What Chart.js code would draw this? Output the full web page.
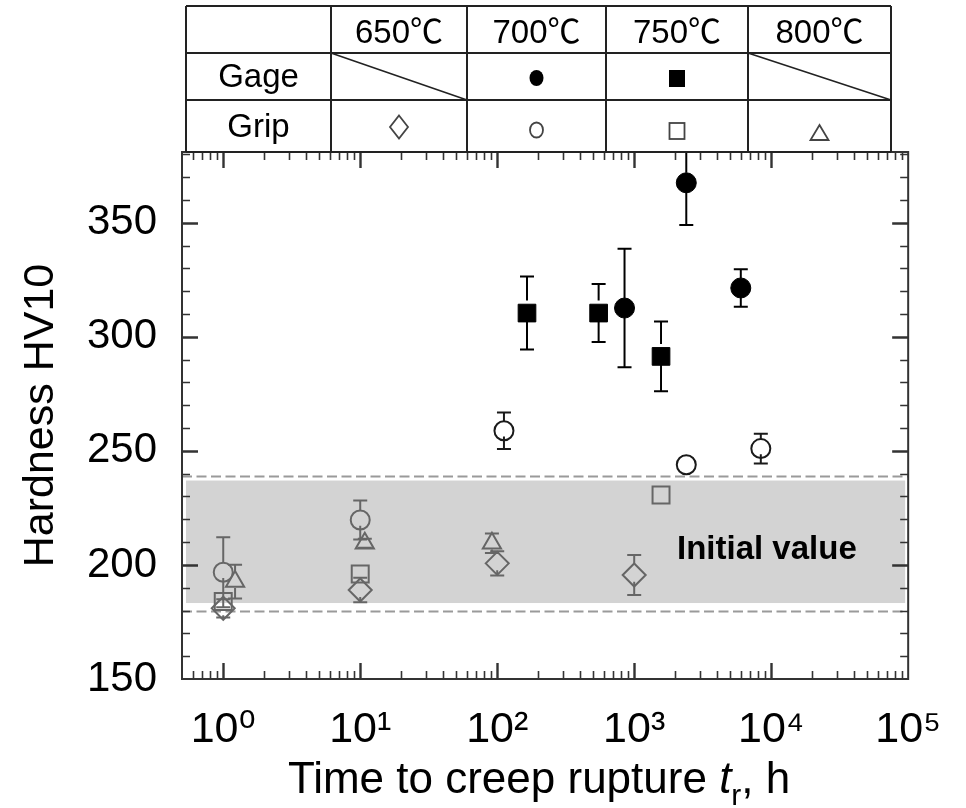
<!DOCTYPE html>
<html><head><meta charset="utf-8">
<script src="https://cdn.jsdelivr.net/npm/chart.js@4/dist/chart.umd.min.js"></script>
<style>html,body{margin:0;padding:0;background:#fff;} canvas{display:block;}</style>
</head><body>
<canvas id="c" width="966" height="808"></canvas>
<script>
// ---------------- data ----------------
const temperatures = ['650℃', '700℃', '750℃', '800℃'];
const rowLabels = ['Gage', 'Grip'];

const gage700Time = [2400, 850, 6000];
const gage700HV   = [367.5, 312.6, 321.4];
const gage700Err  = [18.5, 26, 8.2];

const gage750Time = [165, 550, 1570];
const gage750HV   = [310.4, 310.4, 291.4];
const gage750Err  = [16, 12.7, 15.3];

const grip650Time = [1, 10, 100, 1000];
const grip650HV   = [181, 189, 200.7, 195.6];
const grip650Err  = [4, 5.4, 5.3, 8.8];

const grip700Time = [1, 10, 112, 2400, 8400];
const grip700HV   = [196.8, 219.7, 258.8, 243.9, 251];
const grip700Err  = [15.3, 8.5, 8, 0, 6.5];

const grip750Time = [1, 10, 1570];
const grip750HV   = [184, 196, 230.7];
const grip750Err  = [0, 0, 0];

const grip800Time = [1.22, 10.8, 91.5];
const grip800HV   = [192.7, 209.5, 209.5];
const grip800Err  = [7.4, 2, 4.3];

const initialBand   = [183.3, 237];   // shaded "Initial value" range
const initialLimits = [180, 239];     // dashed limit lines
const initialLabel  = 'Initial value';

const xTickValues = [1, 10, 100, 1000, 10000, 100000];
const xTickLabels = ['10⁰', '10¹', '10²', '10³', '10⁴', '10⁵'];
const yTickValues = [150, 200, 250, 300, 350];
const xTitle = ['Time to creep rupture ', 't', 'r', ', h'];
const yTitle = 'Hardness HV10';

// ---------------- helpers ----------------
const FONT = '"Liberation Sans", Arial, "DejaVu Sans", sans-serif';
const TFONT = '"Liberation Sans", Arial, "Noto Sans CJK SC", sans-serif';
const pts = (xs, ys) => xs.map((x, i) => ({x: x, y: ys[i]}));
const GRIP = '#666666';
const gripColor = (c) => (c.raw && c.raw.y > 238) ? '#1a1a1a' : GRIP;

// ---------------- plugins ----------------
const bandPlugin = {
  id: 'band',
  beforeDatasetsDraw(chart) {
    const {ctx, chartArea: a, scales: {x, y}} = chart;
    ctx.save();
    const yT = y.getPixelForValue(initialBand[1]);
    const yB = y.getPixelForValue(initialBand[0]);
    ctx.fillStyle = '#d3d3d3';
    ctx.fillRect(a.left + 4, yT, a.right - a.left - 7, yB - yT);
    ctx.strokeStyle = '#9a9a9a';
    ctx.lineWidth = 2;
    ctx.setLineDash([10, 4.5]);
    initialLimits.forEach(v => {
      const py = Math.round(y.getPixelForValue(v)) + 0.5;
      ctx.beginPath(); ctx.moveTo(a.left, py); ctx.lineTo(a.right, py); ctx.stroke();
    });
    ctx.setLineDash([]);
    ctx.fillStyle = '#000';
    ctx.font = 'bold 33px ' + FONT;
    ctx.textAlign = 'center';
    ctx.textBaseline = 'alphabetic';
    ctx.fillText(initialLabel, x.getPixelForValue(9300), y.getPixelForValue(202.4));
    // error bars
    ctx.beginPath(); ctx.rect(a.left, a.top, a.right - a.left, a.bottom - a.top); ctx.clip();
    chart.data.datasets.forEach((ds, di) => {
      const meta = chart.getDatasetMeta(di);
      (ds.errors || []).forEach((e, i) => {
        if (!e) return;
        const el = meta.data[i];
        const o = el.options;
        const px = el.x, py = el.y, r = o.radius;
        const top = y.getPixelForValue(ds.data[i].y + e);
        const bot = y.getPixelForValue(ds.data[i].y - e);
        ctx.strokeStyle = o.borderColor;
        ctx.lineWidth = 2;
        ctx.beginPath();
        if (top < py - r) { ctx.moveTo(px, top); ctx.lineTo(px, py - r); }
        if (bot > py + r * 0.6) { ctx.moveTo(px, py + r * 0.6); ctx.lineTo(px, bot); }
        ctx.moveTo(px - 7, top); ctx.lineTo(px + 7, top);
        ctx.moveTo(px - 7, bot); ctx.lineTo(px + 7, bot);
        ctx.stroke();
      });
    });
    ctx.restore();
  }
};

const framePlugin = {
  id: 'frame',
  afterDatasetsDraw(chart) {
    const {ctx, chartArea: a, scales: {x, y}} = chart;
    ctx.save();
    ctx.strokeStyle = '#333';
    const tick = (px, len, w, vertical) => {
      ctx.lineWidth = w;
      ctx.beginPath();
      if (vertical) {
        ctx.moveTo(px, a.bottom); ctx.lineTo(px, a.bottom - len);
        ctx.moveTo(px, a.top); ctx.lineTo(px, a.top + len);
      } else {
        ctx.moveTo(a.left, px); ctx.lineTo(a.left + len, px);
        ctx.moveTo(a.right, px); ctx.lineTo(a.right - len, px);
      }
      ctx.stroke();
    };
    for (let e = -1; e < 5; e++) {
      for (let m = 1; m < 10; m++) {
        const v = m * Math.pow(10, e);
        if (v <= x.min || v >= x.max) continue;
        tick(Math.round(x.getPixelForValue(v)) + 0.5, m === 1 ? 16 : 8, m === 1 ? 2.4 : 1.6, true);
      }
    }
    for (let v = 160; v < y.max; v += 10) {
      const major = v % 50 === 0;
      tick(Math.round(y.getPixelForValue(v)) + 0.5, major ? 16 : 8, major ? 2.4 : 1.6, false);
    }
    ctx.lineWidth = 2;
    ctx.strokeRect(a.left, a.top, a.right - a.left, a.bottom - a.top);
    ctx.restore();
  },
  afterDraw(chart) {
    const {ctx, chartArea: a} = chart;
    ctx.save();
    // x-axis title with italic t and subscript r
    const parts = [
      {t: xTitle[0], f: '44px ' + FONT, dy: 0},
      {t: xTitle[1], f: 'italic 44px ' + FONT, dy: 0},
      {t: xTitle[2], f: '30px ' + FONT, dy: 12},
      {t: xTitle[3], f: '44px ' + FONT, dy: 0}
    ];
    let total = 0;
    parts.forEach(p => { ctx.font = p.f; p.w = ctx.measureText(p.t).width; total += p.w; });
    let cx = (a.left + a.right) / 2 - 6 - total / 2;
    ctx.fillStyle = '#000';
    ctx.textAlign = 'left';
    ctx.textBaseline = 'alphabetic';
    parts.forEach(p => { ctx.font = p.f; ctx.fillText(p.t, cx, 793 + p.dy); cx += p.w; });

    // legend table above the plot
    const cols = [186, 331, 467, 606, 748, 891];
    const rows = [6, 53, 100, a.top];
    ctx.strokeStyle = '#222';
    ctx.lineWidth = 2;
    ctx.beginPath();
    rows.forEach(r => { ctx.moveTo(cols[0], r); ctx.lineTo(cols[5], r); });
    cols.forEach(c => { ctx.moveTo(c, rows[0]); ctx.lineTo(c, rows[3]); });
    ctx.stroke();
    ctx.lineWidth = 1.6;
    ctx.beginPath();
    ctx.moveTo(cols[1], rows[1]); ctx.lineTo(cols[2], rows[2]);
    ctx.moveTo(cols[4], rows[1]); ctx.lineTo(cols[5], rows[2]);
    ctx.stroke();
    ctx.fillStyle = '#000';
    ctx.font = '33px ' + TFONT;
    ctx.textAlign = 'center';
    temperatures.forEach((t, i) => ctx.fillText(t, (cols[i + 1] + cols[i + 2]) / 2, 43));
    ctx.fillText(rowLabels[0], (cols[0] + cols[1]) / 2, 87);
    ctx.fillText(rowLabels[1], (cols[0] + cols[1]) / 2, 137);
    const mid = i => (cols[i + 1] + cols[i + 2]) / 2;
    // Gage symbols
    ctx.beginPath(); ctx.ellipse(mid(1), 78, 7, 8, 0, 0, Math.PI * 2); ctx.fill();
    ctx.fillRect(mid(2) - 8, 70, 16, 17);
    // Grip symbols
    ctx.strokeStyle = '#444'; ctx.lineWidth = 1.8;
    ctx.beginPath();
    ctx.moveTo(mid(0), 115.5); ctx.lineTo(mid(0) + 9, 127); ctx.lineTo(mid(0), 138.5); ctx.lineTo(mid(0) - 9, 127); ctx.closePath();
    ctx.stroke();
    ctx.beginPath(); ctx.ellipse(mid(1), 130, 6.5, 7.5, 0, 0, Math.PI * 2); ctx.stroke();
    ctx.strokeRect(mid(2) - 7.5, 123, 15, 16);
    ctx.beginPath();
    ctx.moveTo(mid(3), 125); ctx.lineTo(mid(3) + 9, 140); ctx.lineTo(mid(3) - 9, 140); ctx.closePath();
    ctx.stroke();
    ctx.restore();
  }
};

// ---------------- chart ----------------
new Chart(document.getElementById('c'), {
  type: 'scatter',
  data: {
    datasets: [
      {label: 'Gage 700℃', data: pts(gage700Time, gage700HV), errors: gage700Err,
       pointStyle: 'circle', pointRadius: 10, borderWidth: 1, borderColor: '#000', backgroundColor: '#000'},
      {label: 'Gage 750℃', data: pts(gage750Time, gage750HV), errors: gage750Err,
       pointStyle: 'rect', pointRadius: 12.5, borderWidth: 1, borderColor: '#000', backgroundColor: '#000'},
      {label: 'Grip 650℃', data: pts(grip650Time, grip650HV), errors: grip650Err,
       pointStyle: 'rectRot', pointRadius: 11.5, borderWidth: 2, borderColor: GRIP, backgroundColor: 'rgba(0,0,0,0)'},
      {label: 'Grip 700℃', data: pts(grip700Time, grip700HV), errors: grip700Err,
       pointStyle: 'circle', pointRadius: 9.5, borderWidth: 2, borderColor: gripColor, backgroundColor: 'rgba(0,0,0,0)'},
      {label: 'Grip 750℃', data: pts(grip750Time, grip750HV), errors: grip750Err,
       pointStyle: 'rect', pointRadius: 12, borderWidth: 2, borderColor: GRIP, backgroundColor: 'rgba(0,0,0,0)'},
      {label: 'Grip 800℃', data: pts(grip800Time, grip800HV), errors: grip800Err,
       pointStyle: 'triangle', pointRadius: 10.5, borderWidth: 2, borderColor: GRIP, backgroundColor: 'rgba(0,0,0,0)'}
    ]
  },
  options: {
    responsive: false,
    animation: false,
    devicePixelRatio: 1,
    layout: {padding: {top: 152, right: 55, left: 0, bottom: 0}},
    plugins: {legend: {display: false}, tooltip: {enabled: false}},
    elements: {point: {hoverRadius: 10}},
    scales: {
      x: {
        type: 'logarithmic', min: 0.5, max: 100000,
        grid: {display: false, drawTicks: false}, border: {display: false},
        afterBuildTicks: s => { s.ticks = xTickValues.map(v => ({value: v})); },
        afterFit: s => { s.height = 129; },
        ticks: {
          autoSkip: false, maxRotation: 0, padding: 25, color: '#000',
          font: {family: FONT, size: 43},
          callback: v => { const i = xTickValues.indexOf(v); return i >= 0 ? xTickLabels[i] : ''; }
        },
        title: {display: false}
      },
      y: {
        type: 'linear', min: 150, max: 381,
        grid: {display: false, drawTicks: false}, border: {display: false},
        afterBuildTicks: s => { s.ticks = yTickValues.map(v => ({value: v})); },
        afterFit: s => { s.width = 182; },
        ticks: {padding: 25, color: '#000', font: {family: FONT, size: 42}},
        title: {display: true, text: yTitle, color: '#000', font: {family: FONT, size: 43}, padding: {top: 15, bottom: 0}}
      }
    }
  },
  plugins: [bandPlugin, framePlugin]
});
</script>
</body></html>
